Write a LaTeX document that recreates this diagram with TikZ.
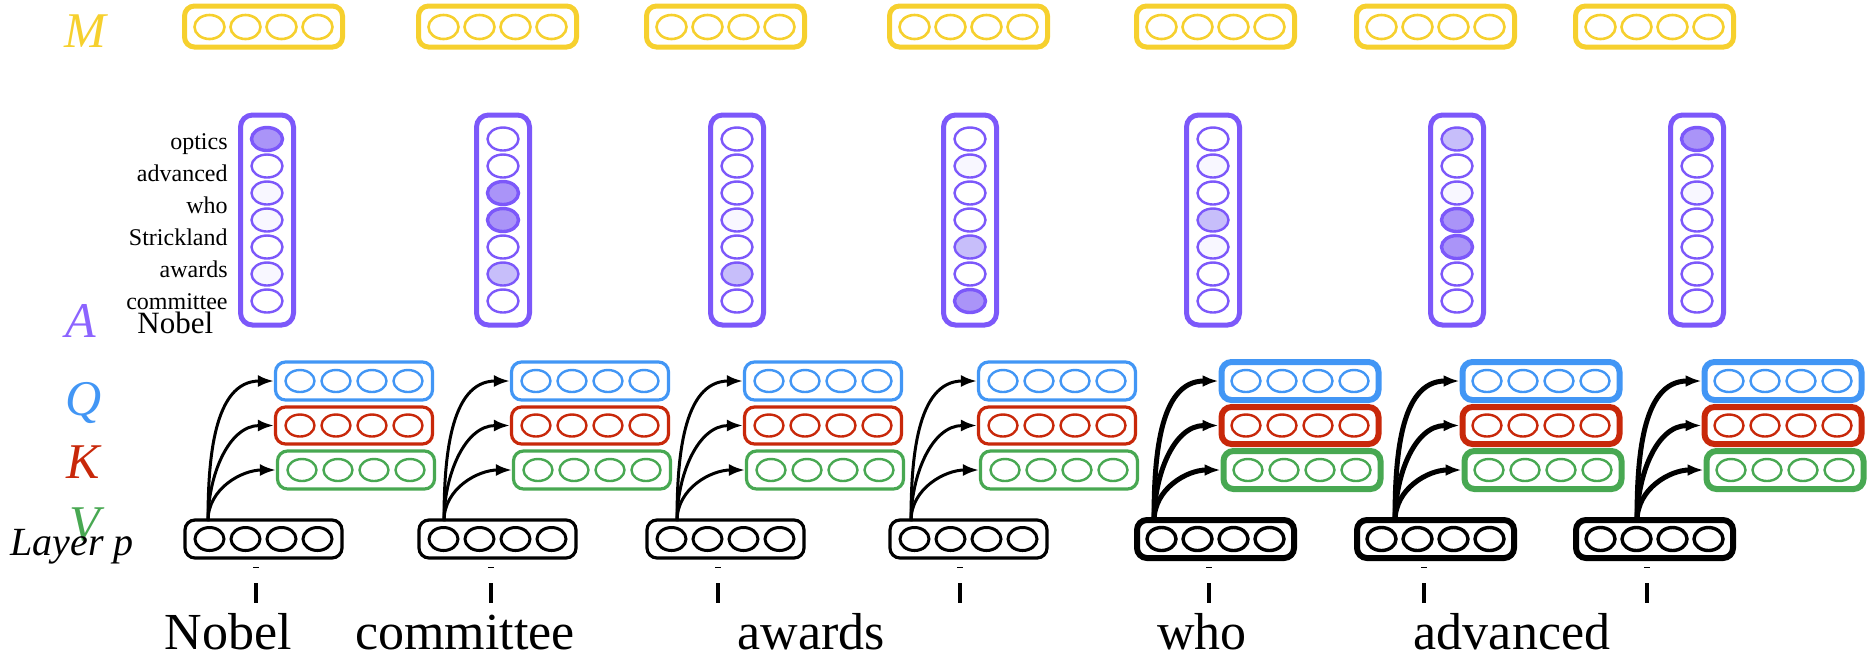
\documentclass[tikz,border=0pt]{standalone}
\usepackage{fontspec}
\setmainfont{Liberation Serif}
\usetikzlibrary{shapes.geometric,arrows.meta}
\definecolor{cY}{RGB}{246,208,46}
\definecolor{cP}{RGB}{124,88,250}
\definecolor{cPl}{RGB}{140,100,255}
\definecolor{cB}{RGB}{66,150,245}
\definecolor{cR}{RGB}{200,40,10}
\definecolor{cG}{RGB}{72,168,82}
\definecolor{lvl0}{RGB}{255,255,255}
\definecolor{lvl1}{RGB}{248,247,255}
\definecolor{lvl2}{RGB}{199,190,250}
\definecolor{lvl3}{RGB}{170,148,248}
\begin{document}
\begin{tikzpicture}[x=0.5pt,y=-0.5pt,
  hbox/.style={draw, rounded corners=5pt, minimum width=78.5pt, minimum height=19pt, inner sep=0pt},
  cell/.style={draw, ellipse, minimum width=14.5pt, minimum height=11pt, inner sep=0pt, line width=1.2pt},
  vbox/.style={draw=cP, rounded corners=6pt, minimum width=26.5pt, minimum height=105pt, line width=2.5pt, inner sep=0pt},
  arr/.style={-{Latex[length=8pt,width=6pt]}},
  lab/.style={inner sep=0pt, anchor=base, font=\fontsize{25}{25}\selectfont\itshape},
  word/.style={inner sep=0pt, anchor=base, font=\fontsize{26}{26}\selectfont},
  aword/.style={inner sep=0pt, anchor=base east, font=\fontsize{12}{12}\selectfont}]
\useasboundingbox (0,0) rectangle (1874,661);

% left labels
\node[lab, text=cY] (lM) at (85,47) {M};
\node[lab, text=cPl] (lA) at (81,337) {A};
\node[lab, text=cB] (lQ) at (84,415) {Q};
\node[lab, text=cR] (lK) at (83,478) {K};
\node[lab, text=cG] (lV) at (85,540) {V};
\node[inner sep=0pt, anchor=base west, font=\fontsize{20}{20}\selectfont\itshape] (lL) at (10,555) {Layer p};

% attention labels
\node[aword] (a1) at (228,149) {optics};
\node[aword] (a2) at (228,181) {advanced};
\node[aword] (a3) at (228,213) {who};
\node[aword] (a4) at (228,245) {Strickland};
\node[aword] (a5) at (228,277) {awards};
\node[aword] (a6) at (228,309) {committee};
\node[inner sep=0pt, anchor=base west, font=\fontsize{15.5}{15.5}\selectfont] (a7) at (137,333) {Nobel};

% bottom words
\node[word] (w1) at (228,649) {Nobel};
\node[word] (w2) at (465,649) {committee};
\node[word] (w3) at (811,649) {awards};
\node[word] (w4) at (1202,649) {who};
\node[word] (w5) at (1512,649) {advanced};

% columns
\foreach \i/\L/\sx/\t/\bw/\aw/\cw in {1/185/208/256/1.6/1.5/1.5, 2/419/444/491/1.6/1.5/1.5, 3/647/677/718/1.6/1.5/1.5, 4/890/911/960/1.6/1.5/1.5, 5/1137/1154/1209/3/2.5/1.7, 6/1357/1395/1424/3/2.5/1.7, 7/1576/1637/1647/3/2.5/1.7}{
  \pgfmathsetmacro\cx{\L+78.5}
  \pgfmathsetmacro\qx{\sx+67+79}
  % layer p
  \node[hbox, draw=black, line width=\bw pt] (L\i) at (\cx,539) {};
  \foreach \k/\o in {1/-54,2/-18,3/18,4/54}
    \node[cell, draw=black, line width=\cw pt, minimum height=11.5pt] (L\i-\k) at ({\cx+\o},539) {};
  % memory
  \node[hbox, draw=cY, line width=2.5pt, minimum width=79pt, minimum height=20.5pt] (M\i) at (\cx,26.5) {};
  \foreach \k/\o in {1/-54,2/-18,3/18,4/54}
    \node[cell, draw=cY, line width=1.3pt, minimum width=15pt, minimum height=12pt] (M\i-\k) at ({\cx+\o},27) {};
  % Q K V
  \node[hbox, draw=cB, line width=\bw pt] (Q\i) at (\qx,381) {};
  \node[hbox, draw=cR, line width=\bw pt, minimum height=18.5pt] (K\i) at (\qx,425.5) {};
  \node[hbox, draw=cG, line width=\bw pt] (V\i) at ({\qx+2},470) {};
  \foreach \k/\o in {1/-54,2/-18,3/18,4/54}{
    \node[cell, draw=cB] (Q\i-\k) at ({\qx+\o},381) {};
    \node[cell, draw=cR] (K\i-\k) at ({\qx+\o},425.5) {};
    \node[cell, draw=cG] (V\i-\k) at ({\qx+2+\o},470) {};
  }
  % arrows
  \coordinate (S\i) at (\sx,521);
  \draw[arr, line width=\aw pt] (S\i) to[out=90,in=180] (Q\i.west);
  \draw[arr, line width=\aw pt] (S\i) to[out=90,in=180] (K\i.west);
  \draw[arr, line width=\aw pt] (S\i) to[out=90,in=180] (V\i.west);
  % ticks
  \coordinate (Da\i) at ({\t-3},567);
  \coordinate (Db\i) at ({\t+3},567);
  \draw[line width=0.5pt] (Da\i) -- (Db\i);
  \coordinate (Ea\i) at (\t,583);
  \coordinate (Eb\i) at (\t,603);
  \draw[line width=2pt] (Ea\i) -- (Eb\i);
}

% attention columns
\foreach \i/\ax/\fl in {1/267/{3,0,1,1,0,1,0}, 2/503/{0,0,3,3,0,2,0}, 3/737/{0,0,0,1,0,2,0}, 4/970/{0,1,0,0,2,0,3}, 5/1213/{0,1,0,2,1,0,0}, 6/1457/{2,0,1,3,3,0,0}, 7/1697/{3,0,1,0,0,0,0}}{
  \node[vbox] (A\i) at (\ax,220) {};
  \foreach \v [count=\r] in \fl {
    \pgfmathsetmacro\lw{\v==3 ? 1.7 : 1.2}
    \node[cell, draw=cP, fill=lvl\v, line width=\lw pt, minimum width=15.5pt, minimum height=11.5pt] (A\i-\r) at (\ax,{139+27*(\r-1)}) {};
  }
}
\end{tikzpicture}
\end{document}
